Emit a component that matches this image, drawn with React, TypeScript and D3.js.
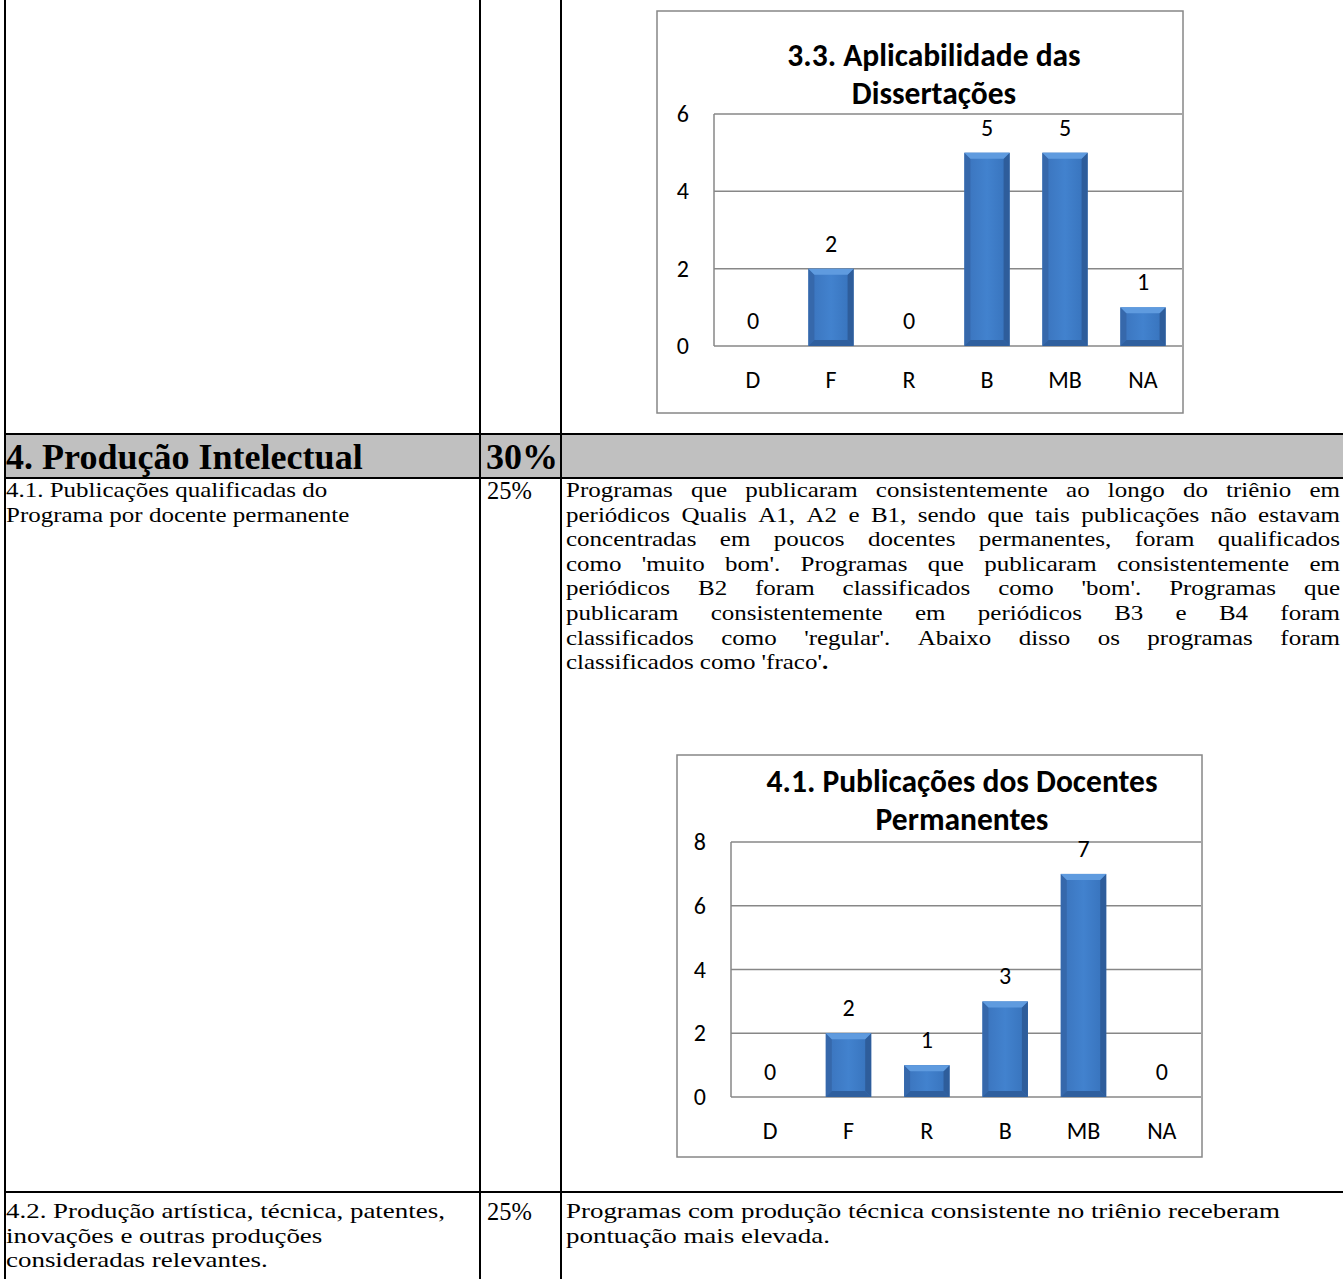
import React from 'react';
import * as d3 from 'd3';

// Categories and values of the two bar charts
const categories = ['D', 'F', 'R', 'B', 'MB', 'NA'];
const aplicabilidadeValues = [0, 2, 0, 5, 5, 1];
const aplicabilidadeTicks = [0, 2, 4, 6];
const publicacoesValues = [0, 2, 1, 3, 7, 0];
const publicacoesTicks = [0, 2, 4, 6, 8];

const aplicabilidadeTitle = ['3.3. Aplicabilidade das', 'Dissertações'];
const publicacoesTitle = ['4.1. Publicações dos Docentes', 'Permanentes'];

// Table contents
const sectionTitle = '4. Produção Intelectual';
const sectionWeight = '30%';
const item41Label = ['4.1. Publicações qualificadas do', 'Programa por docente permanente'];
const item41Weight = '25%';
const item41Text = [
  'Programas que publicaram consistentemente ao longo do triênio em',
  'periódicos Qualis A1, A2 e B1, sendo que tais publicações não estavam',
  'concentradas em poucos docentes permanentes, foram qualificados',
  "como 'muito bom'. Programas que publicaram consistentemente em",
  "periódicos B2 foram classificados como 'bom'. Programas que",
  'publicaram consistentemente em periódicos B3 e B4 foram',
  "classificados como 'regular'. Abaixo disso os programas foram",
];
const item41LastLine = "classificados como 'fraco'";
const item42Label = ['4.2. Produção artística, técnica, patentes,', 'inovações e outras produções', 'consideradas relevantes.'];
const item42Weight = '25%';
const item42Text = ['Programas com produção técnica consistente no triênio receberam', 'pontuação mais elevada.'];

const W = 1343;
const H = 1279;
const SERIF = '"Liberation Serif", "Times New Roman", serif';
const SANS = 'Carlito, Lato, "Open Sans", sans-serif';
const TEXT_SIZE = 22;
const WIDE_41 = 1.136;
const WIDE_42 = 1.225;

let canvasCtx: CanvasRenderingContext2D | null = null;
function measure(text: string, font: string): number {
  if (!canvasCtx) canvasCtx = document.createElement('canvas').getContext('2d');
  canvasCtx!.font = font;
  return canvasCtx!.measureText(text).width;
}

// Serif text drawn with a horizontal stretch factor
function WideText({
  x,
  y,
  sx,
  size = TEXT_SIZE,
  bold = false,
  children,
}: {
  x: number;
  y: number;
  sx: number;
  size?: number;
  bold?: boolean;
  children: React.ReactNode;
}) {
  return (
    <text
      transform={`translate(${x},${y}) scale(${sx},1)`}
      fontFamily={SERIF}
      fontWeight={bold ? 700 : 400}
      fontSize={size}
      fill="#000"
    >
      {children}
    </text>
  );
}

// One justified line: words spread so that the line fills [x0, x1]
function JustifiedLine({ text, x0, x1, y, sx }: { text: string; x0: number; x1: number; y: number; sx: number }) {
  const font = `${TEXT_SIZE}px ${SERIF}`;
  const words = text.split(' ');
  const widths = words.map((w) => measure(w, font) * sx);
  const total = d3.sum(widths);
  const gap = words.length > 1 ? (x1 - x0 - total) / (words.length - 1) : 0;
  let cx = x0;
  return (
    <g>
      {words.map((w, i) => {
        const px = cx;
        cx += widths[i] + gap;
        return (
          <WideText key={i} x={px} y={y} sx={sx}>
            {w}
          </WideText>
        );
      })}
    </g>
  );
}

type Box = { x0: number; y0: number; x1: number; y1: number };
type Plot = { left: number; right: number; top: number; bottom: number };

function BarChart(props: {
  id: string;
  box: Box;
  plot: Plot;
  titleX: number;
  titleYs: number[];
  title: string[];
  values: number[];
  ticks: number[];
}) {
  const { id, box, plot, titleX, titleYs, title, values, ticks } = props;
  const x = d3
    .scaleBand<string>()
    .domain(categories)
    .range([plot.left, plot.right])
    .paddingInner(0.42)
    .paddingOuter(0.21);
  const y = d3
    .scaleLinear()
    .domain([0, d3.max(ticks) as number])
    .range([plot.bottom, plot.top]);
  const grid = '#878787';
  const bw = x.bandwidth();
  return (
    <g>
      <defs>
        <linearGradient id={`${id}-body`} x1="0" y1="0" x2="1" y2="0">
          <stop offset="0" stopColor="#3a73bc" />
          <stop offset="0.5" stopColor="#4282ce" />
          <stop offset="1" stopColor="#3671ba" />
        </linearGradient>
      </defs>
      <rect x={box.x0} y={box.y0} width={box.x1 - box.x0} height={box.y1 - box.y0} fill="#fff" stroke={grid} strokeWidth={1.5} />
      {title.map((t, i) => (
        <text key={i} x={titleX} y={titleYs[i]} textAnchor="middle" fontFamily={SANS} fontWeight={700} fontSize={31.5} fill="#000">
          {t}
        </text>
      ))}
      {ticks.map((t) => (
        <g key={t}>
          <line x1={plot.left} x2={plot.right} y1={y(t)} y2={y(t)} stroke={grid} strokeWidth={1.5} />
          <text x={plot.left - 25} y={y(t) + 8} textAnchor="end" fontFamily={SANS} fontSize={24} fill="#000">
            {t}
          </text>
        </g>
      ))}
      <line x1={plot.left} x2={plot.left} y1={plot.top} y2={plot.bottom} stroke={grid} strokeWidth={1.5} />
      {categories.map((c, i) => {
        const v = values[i];
        const x0 = x(c) as number;
        const x1 = x0 + bw;
        const top = y(v);
        const bottom = y(0);
        const h = bottom - top;
        const b = Math.min(6, h / 2);
        const cxm = x0 + bw / 2;
        return (
          <g key={c}>
            {h > 0 && (
              <g>
                <rect x={x0} y={top} width={bw} height={h} fill={`url(#${id}-body)`} />
                <polygon points={`${x0},${top} ${x0 + b},${top + b} ${x0 + b},${bottom - b} ${x0},${bottom}`} fill="#3668ab" />
                <polygon points={`${x1},${top} ${x1 - b},${top + b} ${x1 - b},${bottom - b} ${x1},${bottom}`} fill="#2e5d9b" />
                <polygon points={`${x0},${top} ${x1},${top} ${x1 - b},${top + b} ${x0 + b},${top + b}`} fill="#5f9bdf" />
                <polygon points={`${x0},${bottom} ${x1},${bottom} ${x1 - b},${bottom - b} ${x0 + b},${bottom - b}`} fill="#2f5f9e" />
              </g>
            )}
            <text x={cxm} y={top - 17} textAnchor="middle" fontFamily={SANS} fontSize={24} fill="#000">
              {v}
            </text>
            <text x={cxm} y={bottom + 42} textAnchor="middle" fontFamily={SANS} fontSize={24} fill="#000">
              {c}
            </text>
          </g>
        );
      })}
    </g>
  );
}

export default function App() {
  const colA = 5;
  const colB = 480;
  const colC = 561;
  const headTop = 434;
  const headBottom = 478;
  const rowSplit = 1192;
  const lh = 24.6;
  const textX = 566;
  const textRight = 1340;
  const row41Y = 497;
  const row42Y = 1218;

  return (
    <svg width={W} height={H} style={{ position: 'absolute', left: 0, top: 0, background: '#fff' }}>
      <rect x={0} y={0} width={W} height={H} fill="#fff" />

      {/* header band */}
      <rect x={colA} y={headTop} width={W - colA} height={headBottom - headTop} fill="#c0c0c0" />

      {/* table rules */}
      <g stroke="#000" strokeWidth={2}>
        <line x1={colA} x2={colA} y1={0} y2={H} />
        <line x1={colB} x2={colB} y1={0} y2={H} />
        <line x1={colC} x2={colC} y1={0} y2={H} />
        <line x1={colA - 1} x2={W} y1={headTop} y2={headTop} />
        <line x1={colA - 1} x2={W} y1={headBottom} y2={headBottom} />
        <line x1={colA - 1} x2={W} y1={rowSplit} y2={rowSplit} />
      </g>

      {/* header row */}
      <WideText x={colA + 1} y={469} sx={1.03} size={35} bold>
        {sectionTitle}
      </WideText>
      <WideText x={486} y={469} sx={1.03} size={35} bold>
        {sectionWeight}
      </WideText>

      {/* row 4.1 */}
      {item41Label.map((t, i) => (
        <WideText key={i} x={colA + 1} y={row41Y + i * lh} sx={WIDE_41}>
          {t}
        </WideText>
      ))}
      <WideText x={487} y={row41Y + 2} sx={1} size={24.5}>
        {item41Weight}
      </WideText>
      {item41Text.map((t, i) => (
        <JustifiedLine key={i} text={t} x0={textX} x1={textRight} y={row41Y + i * lh} sx={WIDE_41} />
      ))}
      <WideText x={textX} y={row41Y + item41Text.length * lh} sx={WIDE_41}>
        {item41LastLine}
        <tspan fontWeight={700}>.</tspan>
      </WideText>

      {/* row 4.2 */}
      {item42Label.map((t, i) => (
        <WideText key={i} x={colA + 1} y={row42Y + i * lh} sx={WIDE_42}>
          {t}
        </WideText>
      ))}
      <WideText x={487} y={row42Y + 2} sx={1} size={24.5}>
        {item42Weight}
      </WideText>
      {item42Text.map((t, i) => (
        <WideText key={i} x={textX} y={row42Y + i * lh} sx={WIDE_42}>
          {t}
        </WideText>
      ))}

      <BarChart
        id="aplic"
        box={{ x0: 657, y0: 11, x1: 1183, y1: 413 }}
        plot={{ left: 714, right: 1182, top: 114, bottom: 346 }}
        titleX={934}
        titleYs={[66, 104]}
        title={aplicabilidadeTitle}
        values={aplicabilidadeValues}
        ticks={aplicabilidadeTicks}
      />
      <BarChart
        id="publ"
        box={{ x0: 677, y0: 755, x1: 1202, y1: 1157 }}
        plot={{ left: 731, right: 1201, top: 842, bottom: 1097 }}
        titleX={962}
        titleYs={[792, 830]}
        title={publicacoesTitle}
        values={publicacoesValues}
        ticks={publicacoesTicks}
      />
    </svg>
  );
}
